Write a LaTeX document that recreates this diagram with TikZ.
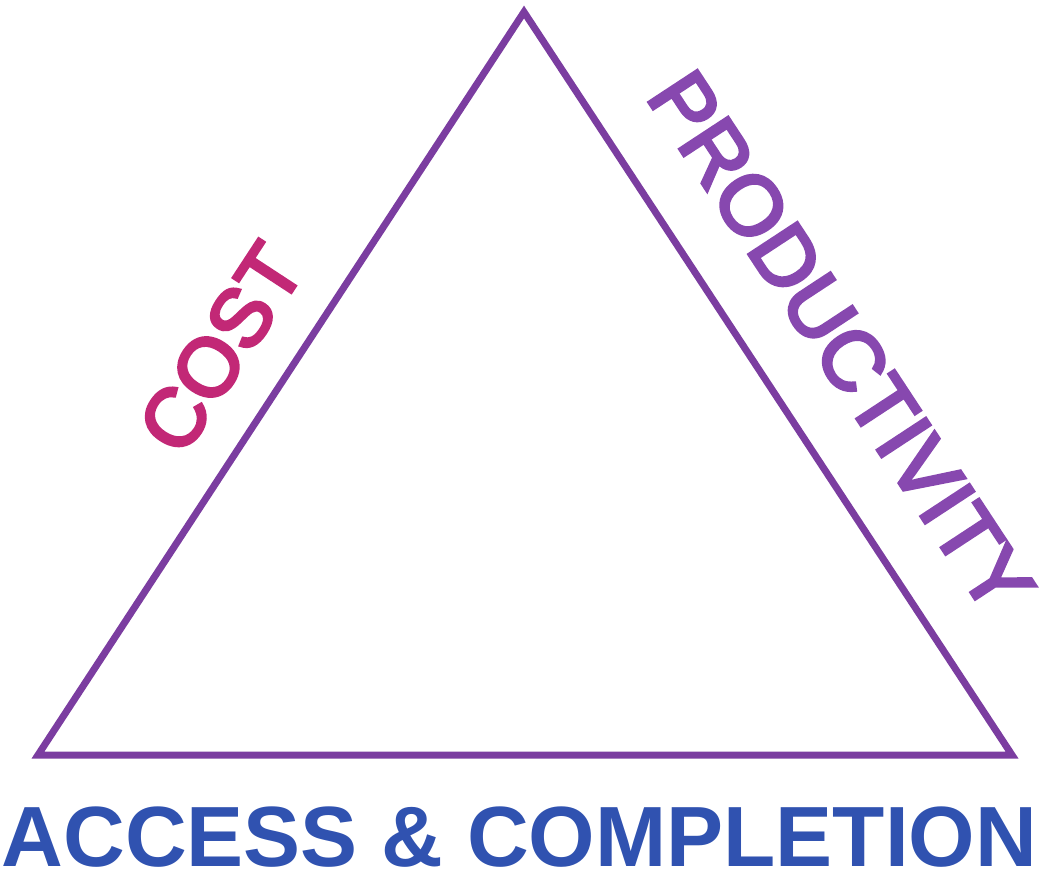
\documentclass[tikz,border=0pt]{standalone}
\usepackage{fontspec}
\setmainfont{Liberation Sans}
\newfontfamily\sidefont[FakeBold=4]{Liberation Sans}
\definecolor{tri}{HTML}{7B3DA0}
\definecolor{costc}{HTML}{C22876}
\definecolor{prodc}{HTML}{8748AF}
\definecolor{accc}{HTML}{3052B0}
\tikzset{
  edge/.style={draw=tri, line width=7pt, line join=miter},
  sidelabel/.style={inner sep=0pt, outer sep=0pt},
}
\begin{document}
\begin{tikzpicture}[x=1pt,y=1pt]
\useasboundingbox (0,0) rectangle (1041,873);
\coordinate (A) at (524,861);
\coordinate (B) at (38,118);
\coordinate (C) at (1012,118);
\path[edge] (A) -- (B) -- (C) -- cycle;
\node[sidelabel, text=costc, rotate=56.8, font=\sidefont\fontsize{82}{82}\selectfont] (cost) at (221,525) {COST};
\node[sidelabel, text=prodc, rotate=-56.7, font=\sidefont\fontsize{84}{84}\selectfont] (prod) at (841,531) {PRODUCTIVITY};
\node[inner sep=0pt, anchor=base, text=accc, font=\fontsize{85.5}{85.5}\selectfont\bfseries] (acc) at (519.5,7) {ACCESS \& COMPLETION};
\end{tikzpicture}
\end{document}
